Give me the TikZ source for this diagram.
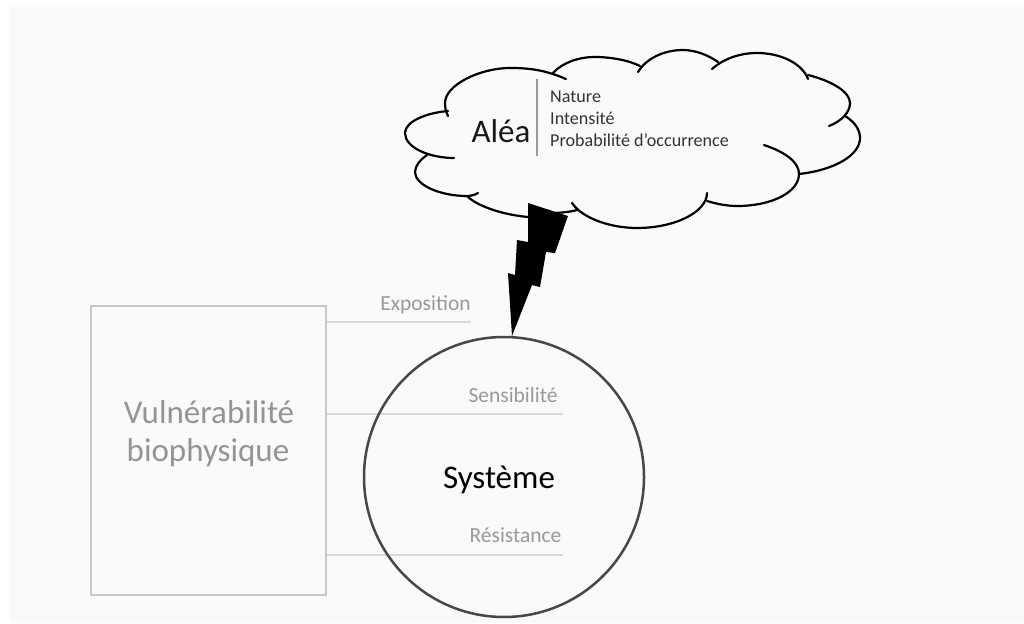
\documentclass[tikz,border=0pt]{standalone}
\usepackage{fontspec}
\setmainfont{Carlito}
\tikzset{
 greyline/.style={draw=black!15,line width=1.2pt},
 cloudarc/.style={draw=black,line width=2.2pt,line cap=round},
 greylabel/.style={text=black!40,font=\fontsize{21.5}{23}\selectfont,inner sep=0pt,anchor=base},
 biglabel/.style={inner sep=0pt,anchor=base,font=\fontsize{33}{33}\selectfont},
 smalllabel/.style={inner sep=0pt,anchor=base west,font=\fontsize{18.1}{20}\selectfont,text=black!80},
}
\begin{document}
\begin{tikzpicture}[x=1pt,y=-1pt]
\useasboundingbox (0,0) rectangle (1024,623);
\fill[white] (0,0) rectangle (1024,623);
\fill[black!2] (9,7) rectangle (1024,623);
% cloud
\draw[cloudarc] (566,79) .. controls (545,70) and (530,68) .. (510,68) .. controls (480,68) and (445,85) .. (445,103) .. controls (445,108) and (446,112) .. (448,116);
\draw[cloudarc] (448,111) .. controls (425,113) and (405,122) .. (405,133) .. controls (405,148) and (430,158) .. (454,158);
\draw[cloudarc] (427,155) .. controls (420,160) and (415,166) .. (415,172) .. controls (415,185) and (440,196) .. (467,196) .. controls (470,196) and (475,195) .. (478,193);
\draw[cloudarc] (467,196) .. controls (478,207) and (505,215) .. (528,217);
\draw[cloudarc] (550,213) .. controls (560,213) and (570,212) .. (577,210);
\draw[cloudarc] (572,203) .. controls (582,218) and (610,228) .. (637,228) .. controls (675,228) and (707,212) .. (707,193);
\draw[cloudarc] (707,201) .. controls (717,204) and (727,206) .. (737,206) .. controls (772,206) and (799,192) .. (799,174) .. controls (799,162) and (785,152) .. (764,145);
\draw[cloudarc] (799,174) .. controls (835,170) and (860,155) .. (860,138) .. controls (860,130) and (855,122) .. (845,116);
\draw[cloudarc] (829,126) .. controls (842,121) and (850,112) .. (850,103) .. controls (850,92) and (832,81) .. (808,75);
\draw[cloudarc] (808,79) .. controls (802,63) and (780,53) .. (757,53) .. controls (738,53) and (722,60) .. (712,69);
\draw[cloudarc] (718,62) .. controls (708,55) and (695,50) .. (683,50) .. controls (662,50) and (645,60) .. (638,72);
\draw[cloudarc] (640,66) .. controls (628,60) and (610,57) .. (595,57) .. controls (578,57) and (562,63) .. (553,73);
% lightning
\fill[black] (528,203)--(568,216)--(555,253)--(546,252)--(540,287)--(532,285)--(512,336)--(508,273)--(515,275)--(517,240)--(528,242)--cycle;
% cloud text
\node[biglabel,text=black!90] (alea) at (501,142) {Aléa};
\coordinate (septop) at (537,79);
\coordinate (sepbot) at (537,156);
\draw[draw=black!40,line width=1.2pt] (septop)--(sepbot);
\node[smalllabel] (nature) at (550,102.5) {Nature};
\node[smalllabel] (intensite) at (550,124.5) {Intensité};
\node[smalllabel] (proba) at (550,146.5) {Probabilité d’occurrence};
% box
\node[draw=black!22,line width=1.2pt,minimum width=235pt,minimum height=289pt,inner sep=0pt] (vuln) at (208.5,450.5) {};
\node[biglabel,text=black!42] (v1) at (209,423) {Vulnérabilité};
\node[biglabel,text=black!42] (v2) at (208,461) {biophysique};
% lines
\coordinate (e) at (471,322);
\coordinate (s) at (563,414);
\coordinate (r) at (563,555);
\draw[greyline] (vuln.east |- e)--(e);
\draw[greyline] (vuln.east |- s)--(s);
\draw[greyline] (vuln.east |- r)--(r);
% circle
\node[circle,draw=black!72,line width=2.5pt,minimum size=280pt,inner sep=0pt] (sys) at (504,477) {};
\node[biglabel,text=black] (systeme) at (499,488) {Système};
\node[greylabel] (le) at (425.5,310) {Exposition};
\node[greylabel] (ls) at (513,402) {Sensibilité};
\node[greylabel] (lr) at (515.5,542) {Résistance};
\end{tikzpicture}
\end{document}
